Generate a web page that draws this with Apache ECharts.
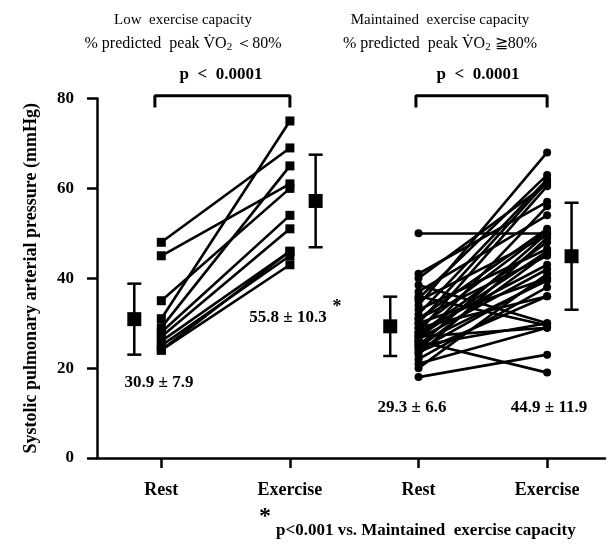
<!DOCTYPE html>
<html><head><meta charset="utf-8">
<script src="https://cdn.jsdelivr.net/npm/echarts@6/dist/echarts.min.js"></script>
<style>html,body{margin:0;padding:0;background:#fff}#c{width:612px;height:556px}</style>
</head><body><div id="c"></div>
<script>
// ---- data ----
var categories = ['Rest', 'Exercise', 'Rest', 'Exercise'];
var yTicks = [0, 20, 40, 60, 80];
// Low exercise capacity (rest, exercise) per subject
var lowRest     = [48, 45, 35, 31, 29, 28, 27, 26, 25, 24, 24];
var lowExercise = [69, 61, 60, 75, 65, 54, 51, 46, 45, 43, 46];
// Maintained exercise capacity
var maintRest     = [50, 41, 40, 38.5, 37, 36, 35.5, 35, 34, 33, 32, 31, 31, 30, 30, 29, 29, 28, 28, 27.5, 27, 27, 26.5, 26, 26, 25.5, 25, 25, 24.5, 24, 23.5, 23, 22, 21, 20, 18];
var maintExercise = [50, 57, 61, 30, 54, 29.5, 63, 49.5, 68, 46.5, 62, 51, 45, 61.5, 40, 50.5, 36, 60.5, 43, 48, 29, 46, 42, 19, 56, 39.5, 50, 30, 45.5, 40, 36, 49, 38, 29, 41, 23];
// group means and SD (as drawn)
var groupMeans = [30.9, 57.2, 29.3, 44.9];
var groupSD    = [7.9, 10.3, 6.6, 11.9];
var statTexts  = ['30.9 \u00b1 7.9', '55.8 \u00b1 10.3', '29.3 \u00b1 6.6', '44.9 \u00b1 11.9'];

// ---- layout helpers ----
var catX = [1, 2, 3, 4];
var meanOffset = [-0.21, 0.2, -0.22, 0.19];
var FONT = '"Liberation Serif", "DejaVu Serif", serif';

function pairLines(rest, ex, xr, xe) {
  return rest.map(function (r, i) { return { coords: [[xr, r], [xe, ex[i]]] }; });
}
function pts(vals, x) { return vals.map(function (v) { return [x, v]; }); }

var meanData = groupMeans.map(function (m, i) { return [catX[i] + meanOffset[i], m, groupSD[i]]; });

var chart = echarts.init(document.getElementById('c'), null, { renderer: 'canvas' });

function txt(x, y, s, font, align) {
  return { type: 'text', x: x, y: y, style: { text: s, align: align || 'center', verticalAlign: 'middle', font: font, fill: '#000' } };
}
var subRich = { s: { fontSize: 11, fontFamily: FONT, padding: [7, 0, 0, 0] } };

var option = {
  backgroundColor: '#fff',
  animation: false,
  grid: { left: 97, right: 7, top: 98.5, bottom: 98 },
  xAxis: {
    type: 'value', min: 0.5, max: 4.45,
    splitLine: { show: false },
    axisLine: { show: true, onZero: false, lineStyle: { color: '#000', width: 2.5 } },
    axisTick: { show: true, customValues: catX, length: 10, lineStyle: { color: '#000', width: 2.5 } },
    axisLabel: {
      customValues: catX, margin: 23,
      formatter: function (v) { return categories[Math.round(v) - 1] || ''; },
      color: '#000', fontFamily: FONT, fontWeight: 'bold', fontSize: 18
    }
  },
  yAxis: {
    type: 'value', min: 0, max: 80, interval: 20,
    name: 'Systolic pulmonary arterial pressure (mmHg)',
    nameLocation: 'middle', nameGap: 57, nameRotate: 90,
    nameTextStyle: { color: '#000', fontFamily: FONT, fontWeight: 'bold', fontSize: 18 },
    splitLine: { show: false },
    axisLine: { show: true, lineStyle: { color: '#000', width: 2.5 } },
    axisTick: { show: true, length: 10, lineStyle: { color: '#000', width: 2.5 } },
    axisLabel: { margin: 23, color: '#000', fontFamily: FONT, fontWeight: 'bold', fontSize: 17,
      formatter: function (v) { return yTicks.indexOf(v) >= 0 ? String(v) : ''; } }
  },
  series: [
    { type: 'lines', coordinateSystem: 'cartesian2d', polyline: false, silent: true,
      data: pairLines(lowRest, lowExercise, 1, 2),
      lineStyle: { color: '#000', width: 2.6, opacity: 1, curveness: 0 } },
    { type: 'lines', coordinateSystem: 'cartesian2d', polyline: false, silent: true,
      data: pairLines(maintRest, maintExercise, 3, 4),
      lineStyle: { color: '#000', width: 2.6, opacity: 1, curveness: 0 } },
    { type: 'scatter', symbol: 'rect', symbolSize: 9, itemStyle: { color: '#000', opacity: 1 },
      data: pts(lowRest, 1).concat(pts(lowExercise, 2)) },
    { type: 'scatter', symbol: 'circle', symbolSize: 8, itemStyle: { color: '#000', opacity: 1 },
      data: pts(maintRest, 3).concat(pts(maintExercise, 4)) },
    { type: 'custom', silent: true,
      renderItem: function (params, api) {
        var x = api.value(0), m = api.value(1), sd = api.value(2);
        var top = api.coord([x, m + sd]), bot = api.coord([x, m - sd]);
        var hw = 7;
        var st = { stroke: '#000', lineWidth: 2.5 };
        return { type: 'group', children: [
          { type: 'line', shape: { x1: top[0], y1: top[1], x2: bot[0], y2: bot[1] }, style: st },
          { type: 'line', shape: { x1: top[0] - hw, y1: top[1], x2: top[0] + hw, y2: top[1] }, style: st },
          { type: 'line', shape: { x1: bot[0] - hw, y1: bot[1], x2: bot[0] + hw, y2: bot[1] }, style: st }
        ] };
      },
      data: meanData, z: 3 },
    { type: 'scatter', symbol: 'rect', symbolSize: 14, itemStyle: { color: '#000', opacity: 1 },
      data: meanData.map(function (d) { return [d[0], d[1]]; }), z: 4 },
    // significance brackets
    { type: 'line', clip: false, symbol: 'none', silent: true,
      lineStyle: { color: '#000', width: 3 },
      data: [[0.95, 78.0], [0.95, 80.6], [2.0, 80.6], [2.0, 78.0]] },
    { type: 'line', clip: false, symbol: 'none', silent: true,
      lineStyle: { color: '#000', width: 3 },
      data: [[2.98, 78.0], [2.98, 80.6], [4.0, 80.6], [4.0, 78.0]] }
  ],
  graphic: [
    txt(183, 20, 'Low  exercise capacity', '15px ' + FONT),
    { type: 'text', x: 183, y: 44, style: { text: '% predicted  peak V\u0307O{s|2} \uff1c80%', rich: subRich, align: 'center', verticalAlign: 'middle', font: '16px ' + FONT, fill: '#000' } },
    txt(440, 20, 'Maintained  exercise capacity', '15px ' + FONT),
    { type: 'text', x: 440, y: 44, style: { text: '% predicted  peak V\u0307O{s|2} \u226780%', rich: subRich, align: 'center', verticalAlign: 'middle', font: '16px ' + FONT, fill: '#000' } },
    txt(221, 75, 'p  <  0.0001', 'bold 17px ' + FONT),
    txt(478, 75, 'p  <  0.0001', 'bold 17px ' + FONT),
    txt(159, 383, statTexts[0], 'bold 17px ' + FONT),
    txt(288, 318, statTexts[1], 'bold 17px ' + FONT),
    txt(337, 307, '*', 'bold 18px ' + FONT),
    txt(412, 408, statTexts[2], 'bold 17px ' + FONT),
    txt(549, 408, statTexts[3], 'bold 17px ' + FONT),
    txt(265, 517, '*', 'bold 24px ' + FONT),
    txt(276, 531, 'p<0.001 vs. Maintained  exercise capacity', 'bold 17px ' + FONT, 'left')
  ]
};
chart.setOption(option);
</script>
</body></html>
